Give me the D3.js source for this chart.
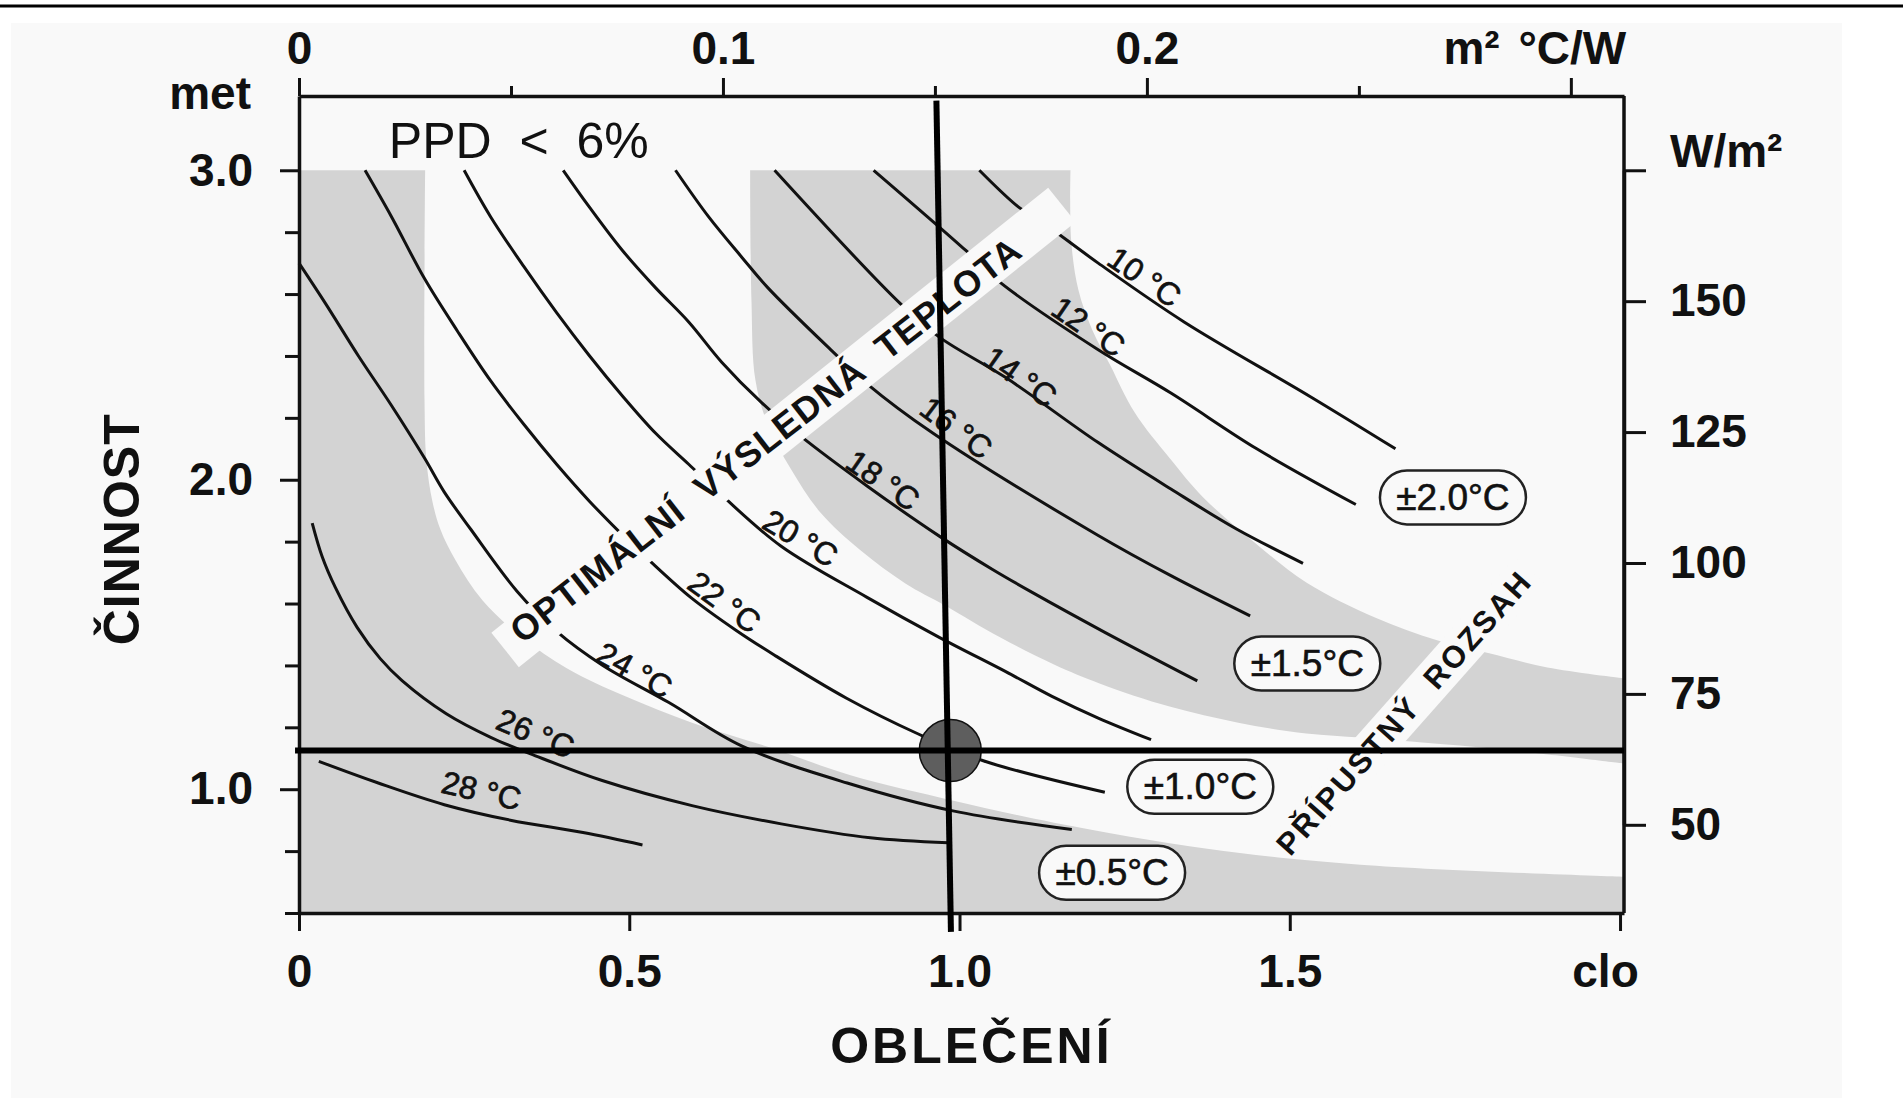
<!DOCTYPE html>
<html lang="cs">
<head>
<meta charset="UTF-8">
<title>Optimální výsledná teplota</title>
<script src="https://cdn.jsdelivr.net/npm/d3@7"></script>
<style>
    body { margin: 0; background: #ffffff; }
    svg { display: block; }
    text { font-family: "Liberation Sans", Arial, Helvetica, sans-serif; fill: #111; }
</style>
</head>
<body>
<script>
    // osy
    var metTicks = [0.6, 0.8, 1.0, 1.2, 1.4, 1.6, 1.8, 2.0, 2.2, 2.4, 2.6, 2.8, 3.0];
    var metLabels = [1.0, 2.0, 3.0];
    var cloTicks = [0, 0.5, 1.0, 1.5, 2.0];
    var resTicks = [0, 0.05, 0.1, 0.15, 0.2, 0.25, 0.3];
    var resLabels = [0, 0.1, 0.2];
    var wTicks = [50, 75, 100, 125, 150, 175];

    // krivky optimalni vysledne teploty, body [clo, met]
    var temps = [10, 12, 14, 16, 18, 20, 22, 24, 26, 28];
    var curve10 = [[1.03,3.0],[1.09,2.88],[1.12,2.84],[1.21,2.70],[1.34,2.51],[1.53,2.27],[1.66,2.10]];
    var curve12 = [[0.87,3.0],[1.01,2.74],[1.06,2.64],[1.21,2.42],[1.32,2.28],[1.45,2.10],[1.60,1.92]];
    var curve14 = [[0.72,3.0],[0.91,2.57],[0.97,2.46],[1.07,2.33],[1.21,2.12],[1.32,1.97],[1.42,1.84],[1.52,1.73]];
    var curve16 = [[0.57,3.0],[0.62,2.85],[0.67,2.72],[0.71,2.62],[0.81,2.41],[0.86,2.31],[0.96,2.15],[1.21,1.82],[1.32,1.69],[1.44,1.56]];
    var curve18 = [[0.40,3.0],[0.44,2.88],[0.49,2.74],[0.54,2.62],[0.59,2.51],[0.64,2.38],[0.70,2.25],[0.76,2.14],[0.86,1.98],[0.97,1.817],[1.05,1.71],[1.11,1.636],[1.22,1.507],[1.36,1.35]];
    var curve20 = [[0.25,3.0],[0.29,2.85],[0.34,2.69],[0.39,2.54],[0.44,2.40],[0.49,2.27],[0.54,2.15],[0.59,2.05],[0.64,1.95],[0.73,1.785],[0.86,1.62],[0.97,1.49],[1.07,1.38],[1.14,1.30],[1.21,1.23],[1.29,1.16]];
    var curve22 = [[0.10,3.0],[0.14,2.85],[0.19,2.65],[0.24,2.48],[0.29,2.32],[0.34,2.18],[0.39,2.05],[0.44,1.93],[0.50,1.80],[0.527,1.746],[0.593,1.62],[0.662,1.513],[0.72,1.433],[0.829,1.294],[0.936,1.18],[1.036,1.092],[1.22,0.99]];
    var curve24 = [[0.00,2.70],[0.04,2.57],[0.09,2.40],[0.14,2.24],[0.19,2.07],[0.22,1.96],[0.26,1.84],[0.33,1.64],[0.39,1.51],[0.46,1.40],[0.56,1.28],[0.67,1.14],[0.83,1.02],[0.99,0.93],[1.17,0.87]];
    var curve26 = [[0.02,1.86],[0.035,1.752],[0.055,1.652],[0.088,1.523],[0.123,1.422],[0.156,1.351],[0.223,1.244],[0.291,1.167],[0.358,1.108],[0.459,1.028],[0.595,0.947],[0.730,0.888],[0.865,0.843],[0.983,0.827]];
    var curve28 = [[0.03,1.09],[0.12,1.02],[0.22,0.95],[0.32,0.90],[0.43,0.86],[0.52,0.82]];
    var curves = [curve10, curve12, curve14, curve16, curve18, curve20, curve22, curve24, curve26, curve28];
    var labelPts = [[1.28,2.655],[1.195,2.494],[1.092,2.332],[0.995,2.167],[0.884,1.998],[0.759,1.811],[0.644,1.604],[0.508,1.384],[0.358,1.180],[0.276,0.995]];

    // sede zony (hranice v [clo, met])
    var zoneLowEdge = [[0.191,3.0],[0.190,2.26],[0.193,2.06],[0.202,1.93],[0.214,1.84],[0.237,1.74],[0.278,1.61],[0.338,1.49],[0.406,1.39],[0.494,1.30],[0.595,1.215],[0.720,1.13],[0.835,1.045],[0.991,0.963],[1.143,0.892],[1.375,0.808],[1.607,0.756],[2.006,0.717]];
    var zoneMidOuter = [[1.168,3.0],[1.169,2.775],[1.180,2.613],[1.201,2.484],[1.228,2.371],[1.265,2.218],[1.318,2.070],[1.369,1.943],[1.448,1.795],[1.525,1.668],[1.629,1.555],[1.723,1.481],[1.802,1.439],[1.890,1.393],[2.006,1.358]];
    var zoneMidInner = [[2.006,1.083],[1.838,1.125],[1.684,1.154],[1.607,1.167],[1.525,1.180],[1.422,1.215],[1.318,1.267],[1.213,1.341],[1.143,1.403],[1.062,1.49],[0.978,1.594],[0.918,1.665],[0.850,1.772],[0.789,1.895],[0.744,2.037],[0.710,2.176],[0.691,2.322],[0.685,2.581],[0.683,3.0]];

    // bile pruhy s napisy
    var stripeOptimal = [[0.312,1.45],[1.155,2.888]];
    var stripeRange = [[1.531,0.905],[1.864,1.707]];
    var textOptimal = [0.706, 2.128];
    var textRange = [1.672, 1.244];

    // tolerance
    var tolLabels = ["±0.5°C", "±1.0°C", "±1.5°C", "±2.0°C"];
    var tolPts = [[1.231,0.730],[1.3645,1.008],[1.5265,1.406],[1.747,1.943]];

    // vyznaceny bod
    var refVertical = [[0.965,3.225],[0.987,0.539]];
    var refHorizontal = [[-0.006,1.125],[2.006,1.125]];
    var refPoint = [0.986, 1.125];

    var W = 1903, H = 1109;
    var bg = "#f9f9f9", gray = "#d3d3d3", ink = "#111";

    var svg = d3.select("body").append("svg").attr("width", W).attr("height", H);

    var x = d3.scaleLinear().domain([0, 2.006]).range([299, 1624]);
    var y = d3.scaleLinear().domain([0.6, 3.24]).range([913, 96]);
    var xR = d3.scaleLinear().domain([0, 2.006 * 0.1558]).range(x.range());   // m2 K/W
    var yW = d3.scaleLinear().domain([50, 175]).range([y(0.885), y(3.0)]);   // W/m2

    // pozadi
    svg.append("rect").attr("x", 11).attr("y", 23).attr("width", 1831).attr("height", 1075).attr("fill", bg);
    svg.append("rect").attr("x", 0).attr("y", 4.5).attr("width", W).attr("height", 3).attr("fill", "#000");

    var smooth = d3.line().x(function (d) { return x(d[0]); }).y(function (d) { return y(d[1]); })
        .curve(d3.curveCatmullRom.alpha(0.5));
    var straight = d3.line().x(function (d) { return x(d[0]); }).y(function (d) { return y(d[1]); });

    // zona vlevo dole
    svg.append("path")
        .attr("d", straight([[0, 3.0]]) + smooth(zoneLowEdge).replace(/^M/, "L")
            + straight([[2.006, 0.6], [0, 0.6]]).replace(/^M/, "L") + "Z")
        .attr("fill", gray);
    // prostredni zona
    svg.append("path")
        .attr("d", smooth(zoneMidOuter) + smooth(zoneMidInner).replace(/^M/, "L") + "Z")
        .attr("fill", gray);

    // krivky
    svg.append("g").selectAll("path").data(curves).enter().append("path")
        .attr("d", smooth)
        .attr("fill", "none").attr("stroke", ink).attr("stroke-width", 3);

    // bile pruhy
    svg.append("path").attr("d", straight(stripeOptimal))
        .attr("stroke", bg).attr("stroke-width", 44).attr("fill", "none");
    svg.append("path").attr("d", straight(stripeRange))
        .attr("stroke", bg).attr("stroke-width", 40).attr("fill", "none");

    function pxAngle(a, b) {
        return Math.atan2(y(b[1]) - y(a[1]), x(b[0]) - x(a[0])) * 180 / Math.PI;
    }
    svg.append("text")
        .attr("transform", "translate(" + x(textOptimal[0]) + "," + y(textOptimal[1]) + ") rotate(" + (pxAngle(stripeOptimal[0], stripeOptimal[1]) + 0.8) + ")")
        .attr("text-anchor", "middle").attr("dominant-baseline", "central")
        .attr("font-size", 36).attr("font-weight", "bold")
        .attr("textLength", 635).attr("lengthAdjust", "spacing")
        .style("white-space", "pre")
        .text("OPTIMÁLNÍ  VÝSLEDNÁ  TEPLOTA");
    svg.append("text")
        .attr("transform", "translate(" + x(textRange[0]) + "," + y(textRange[1]) + ") rotate(" + pxAngle(stripeRange[0], stripeRange[1]) + ")")
        .attr("text-anchor", "middle").attr("dominant-baseline", "central")
        .attr("font-size", 31).attr("font-weight", "bold")
        .attr("textLength", 365).attr("lengthAdjust", "spacing")
        .style("white-space", "pre")
        .text("PŘÍPUSTNÝ  ROZSAH");

    // popisky krivek - natoceni podle smeru krivky
    function angleNear(pts, p) {
        var px = x(p[0]), py = y(p[1]), best = 0, bd = Infinity;
        for (var i = 0; i < pts.length - 1; i++) {
            var mx = (x(pts[i][0]) + x(pts[i + 1][0])) / 2, my = (y(pts[i][1]) + y(pts[i + 1][1])) / 2;
            var dd = (mx - px) * (mx - px) + (my - py) * (my - py);
            if (dd < bd) { bd = dd; best = i; }
        }
        return pxAngle(pts[best], pts[best + 1]);
    }
    svg.append("g").selectAll("text").data(temps).enter().append("text")
        .attr("transform", function (d, i) {
            return "translate(" + x(labelPts[i][0]) + "," + y(labelPts[i][1]) + ") rotate(" + angleNear(curves[i], labelPts[i]) + ")";
        })
        .attr("text-anchor", "middle").attr("dominant-baseline", "central")
        .attr("font-size", 32).attr("stroke", ink).attr("stroke-width", 0.7)
        .text(function (d) { return d + " °C"; });

    // tolerance v ramečcích
    var tol = svg.append("g").selectAll("g").data(tolLabels).enter().append("g")
        .attr("transform", function (d, i) { return "translate(" + x(tolPts[i][0]) + "," + y(tolPts[i][1]) + ")"; });
    tol.append("rect").attr("x", -73).attr("y", -27).attr("width", 146).attr("height", 54)
        .attr("rx", 27).attr("fill", bg).attr("stroke", "#222").attr("stroke-width", 2.5);
    tol.append("text").attr("text-anchor", "middle").attr("dominant-baseline", "central")
        .attr("font-size", 37).attr("stroke", ink).attr("stroke-width", 0.6)
        .text(function (d) { return d; });

    svg.append("text").attr("x", x(0.136)).attr("y", y(3.04)).attr("font-size", 50)
        .style("white-space", "pre").text("PPD  <  6%");

    // osy
    function styleAxis(g) {
        g.select(".domain").attr("stroke", ink).attr("stroke-width", 3.5);
        g.selectAll(".tick line").attr("stroke", ink).attr("stroke-width", 3);
        g.selectAll(".tick text").attr("font-size", 46).attr("font-weight", "bold").attr("fill", ink)
            .attr("font-family", null);
    }
    svg.append("g").attr("transform", "translate(" + x(0) + ",0)")
        .call(d3.axisLeft(y).tickValues(metTicks).tickSize(16).tickSizeOuter(0).tickPadding(30)
            .tickFormat(function (d) { return metLabels.indexOf(d) >= 0 ? d3.format(".1f")(d) : ""; }))
        .call(styleAxis)
        .call(function (g) {
            g.selectAll(".tick line").attr("x2", function (d) { return metLabels.indexOf(d) >= 0 ? -19 : -14; });
        });
    svg.append("g").attr("transform", "translate(0," + y(0.6) + ")")
        .call(d3.axisBottom(x).tickValues(cloTicks).tickSize(18).tickSizeOuter(0).tickPadding(23)
            .tickFormat(function (d) { return d === 2 ? "" : (d === 0 ? "0" : d3.format(".1f")(d)); }))
        .call(styleAxis);
    svg.append("g").attr("transform", "translate(0," + y(3.24) + ")")
        .call(d3.axisTop(xR).tickValues(resTicks).tickSize(18).tickSizeOuter(0).tickPadding(14)
            .tickFormat(function (d) { return resLabels.indexOf(d) < 0 ? "" : (d === 0 ? "0" : d3.format(".1f")(d)); }))
        .call(styleAxis)
        .call(function (g) {
            g.selectAll(".tick line").attr("y2", function (d) { return (resLabels.indexOf(d) >= 0 || d === 0.3) ? -18 : -10; });
        });
    svg.append("g").attr("transform", "translate(" + x(2.006) + ",0)")
        .call(d3.axisRight(yW).tickValues(wTicks).tickSize(22).tickSizeOuter(0).tickPadding(24)
            .tickFormat(function (d) { return d === 175 ? "" : d; }))
        .call(styleAxis);
    // pravy okraj ramu
    svg.append("path").attr("d", straight([[2.006, 0.6], [2.006, 3.24]]))
        .attr("stroke", ink).attr("stroke-width", 3.5);

    // jednotky a nazvy os
    function unit(tx, ty, anchor, s) {
        return svg.append("text").attr("x", tx).attr("y", ty).attr("text-anchor", anchor)
            .attr("font-size", 46).attr("font-weight", "bold").text(s);
    }
    unit(251, 109, "end", "met");
    unit(x(1.978), 987, "middle", "clo");
    unit(xR(0.2915), 64, "middle", "m² °C/W").attr("word-spacing", 6);
    unit(1670, yW(175) - 3, "start", "W/m²");

    svg.append("text").attr("x", x(1.018)).attr("y", 1063).attr("text-anchor", "middle")
        .attr("font-size", 50).attr("font-weight", "bold").attr("letter-spacing", 3).text("OBLEČENÍ");
    svg.append("text").attr("transform", "translate(139," + y(1.84) + ") rotate(-90)").attr("text-anchor", "middle")
        .attr("font-size", 50).attr("font-weight", "bold").attr("letter-spacing", 1).text("ČINNOST");

    // vyznaceny pracovni bod
    svg.append("circle").attr("cx", x(refPoint[0])).attr("cy", y(refPoint[1])).attr("r", 31)
        .attr("fill", "#5e5e5e").attr("stroke", ink).attr("stroke-width", 1.5);
    svg.append("path").attr("d", straight(refVertical)).attr("stroke", "#000").attr("stroke-width", 6);
    svg.append("path").attr("d", straight(refHorizontal)).attr("stroke", "#000").attr("stroke-width", 6);
</script>
</body>
</html>
